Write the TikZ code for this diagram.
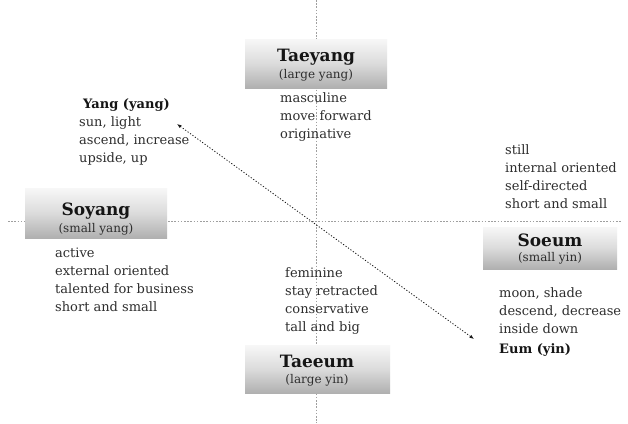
\documentclass[tikz,border=0pt]{standalone}
\usepackage{fontspec}
\setmainfont{DejaVu Serif}
\usetikzlibrary{arrows.meta}
\definecolor{bodytxt}{HTML}{2E2E2E}
\definecolor{titletxt}{HTML}{151515}
\tikzset{
  axisline/.style={draw=gray!75, line width=0.6pt, dash pattern=on 1.6pt off 1.6pt},
  gradbox/.style={draw=none, top color=gray!6, bottom color=gray!62, middle color=gray!28},
  ttl/.style={inner sep=0pt, anchor=base, text=titletxt, font=\fontsize{17}{19}\selectfont\bfseries},
  subttl/.style={inner sep=0pt, anchor=base, text=bodytxt, font=\fontsize{12}{14}\selectfont},
  bodyline/.style={inner sep=0pt, anchor=base west, text=bodytxt, font=\fontsize{13}{15}\selectfont},
  boldline/.style={inner sep=0pt, anchor=base west, text=titletxt, font=\fontsize{13}{15}\selectfont\bfseries},
  linkarrow/.style={draw=gray!20!black, line width=0.8pt, dash pattern=on 1.2pt off 1.8pt, {Latex[length=4.5pt,width=3.5pt]}-{Latex[length=4.5pt,width=3.5pt]}}
}
\begin{document}
\begin{tikzpicture}[x=1pt,y=-1pt]
\useasboundingbox (0,0) rectangle (628,423);
\fill[white] (0,0) rectangle (628,423);
% axes
\coordinate (vtop) at (316,0);
\coordinate (vbot) at (316,423);
\coordinate (hleft) at (8,221);
\coordinate (hright) at (622,221);
\draw[axisline] (vtop) -- (vbot);
\draw[axisline] (hleft) -- (hright);
% boxes
\shade[gradbox] (245,39) rectangle (387,88);
\shade[gradbox] (25,188) rectangle (167,238);
\shade[gradbox] (483,227) rectangle (617,269);
\shade[gradbox] (245,345) rectangle (390,393);
% titles
\node[ttl] (taeyang) at (316,61) {Taeyang};
\node[subttl] (taeyangs) at (316,78) {(large yang)};
\node[ttl] (soyang) at (96,215) {Soyang};
\node[subttl] (soyangs) at (96,232) {(small yang)};
\node[ttl] (soeum) at (550,246) {Soeum};
\node[subttl] (soeums) at (550,261) {(small yin)};
\node[ttl] (taeeum) at (317,367) {Taeeum};
\node[subttl] (taeeums) at (317,383) {(large yin)};
% Taeyang list
\node[bodyline] (ty1) at (280,102) {masculine};
\node[bodyline] (ty2) at (280,120) {move forward};
\node[bodyline] (ty3) at (280,138) {originative};
% Yang list
\node[boldline] (yg0) at (83,108) {Yang (yang)};
\node[bodyline] (yg1) at (79,126) {sun, light};
\node[bodyline] (yg2) at (79,144) {ascend, increase};
\node[bodyline] (yg3) at (79,162) {upside, up};
% Soyang list
\node[bodyline] (sy1) at (55,257) {active};
\node[bodyline] (sy2) at (55,275) {external oriented};
\node[bodyline] (sy3) at (55,293) {talented for business};
\node[bodyline] (sy4) at (55,311) {short and small};
% Soeum list
\node[bodyline] (se1) at (505,154) {still};
\node[bodyline] (se2) at (505,172) {internal oriented};
\node[bodyline] (se3) at (505,190) {self-directed};
\node[bodyline] (se4) at (505,208) {short and small};
% Taeeum list
\node[bodyline] (te1) at (285,277) {feminine};
\node[bodyline] (te2) at (285,295) {stay retracted};
\node[bodyline] (te3) at (285,313) {conservative};
\node[bodyline] (te4) at (285,331) {tall and big};
% Eum list
\node[bodyline] (em1) at (499,297) {moon, shade};
\node[bodyline] (em2) at (499,315) {descend, decrease};
\node[bodyline] (em3) at (499,333) {inside down};
\node[boldline] (em0) at (499,353) {Eum (yin)};
% link arrow
\coordinate (yangTip) at (177,124);
\coordinate (eumTip) at (474,339);
\draw[linkarrow] (yangTip) -- (eumTip);
\end{tikzpicture}
\end{document}
